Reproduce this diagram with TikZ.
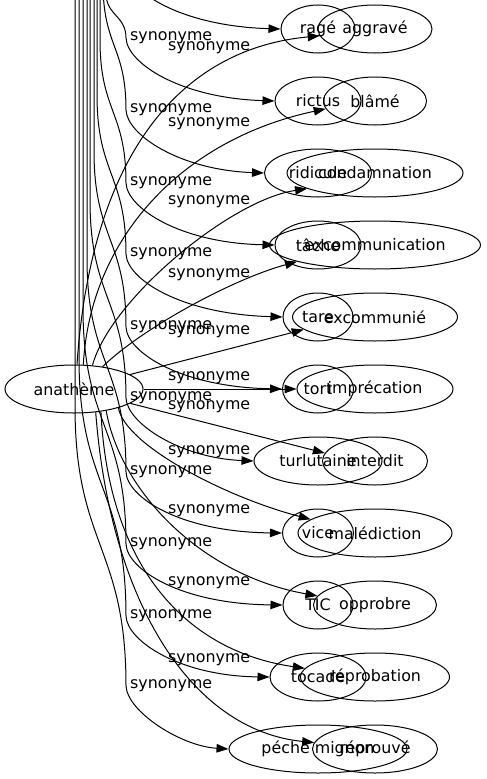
\documentclass[tikz,border=0pt]{standalone}
\usepackage{fontspec}
\setmainfont{DejaVu Sans}
\usetikzlibrary{arrows.meta,shapes.geometric}

\begin{document}
\begin{tikzpicture}[x=1pt,y=-1pt,node distance=72pt,font=\fontsize{15.85pt}{19pt}\selectfont]
  \tikzstyle{word} = [ellipse, draw, line width=1pt, inner sep=0pt, minimum height=48pt]
  \tikzstyle{rel} = [anchor=west, inner sep=0pt]
  \tikzstyle{arrow} = [line width=1pt, -{Triangle[length=12pt,width=8.5pt]}]

  \useasboundingbox (0,0) rectangle (487,779);
  \clip (0,0) rectangle (487,779);

  \node (anatheme) [word, minimum width=138pt] at (74,389) {anathème};

  % first column
  \node (rage) [word, minimum width=74pt] at (318,29) {ragé};
  \node (rictus) [word, minimum width=86pt, below of=rage] {rictus};
  \node (ridicule) [word, minimum width=107pt, below of=rictus] {ridicule};
  \node (tache) [word, minimum width=86pt, below of=ridicule] {tâche};
  \node (tare) [word, minimum width=70pt, below of=tache] {tare};
  \node (tort) [word, minimum width=71pt, below of=tare] {tort};
  \node (turlutaine) [word, minimum width=128pt, below of=tort] {turlutaine};
  \node (vice) [word, minimum width=71pt, below of=turlutaine] {vice};
  \node (tic) [word, minimum width=70pt, below of=vice] {TIC};
  \node (tocade) [word, minimum width=96pt, below of=tic] {tocade};
  \node (peche) [word, minimum width=178pt, below of=tocade] {péché mignon};

  % second column
  \node (aggrave) [word, minimum width=114pt] at (375,29) {aggravé};
  \node (blame) [word, minimum width=103pt, below of=aggrave] {blâmé};
  \node (condamnation) [word, minimum width=176pt, below of=blame] {condamnation};
  \node (excommunication) [word, minimum width=211pt, below of=condamnation] {excommunication};
  \node (excommunie) [word, minimum width=165pt, below of=excommunication] {excommunié};
  \node (imprecation) [word, minimum width=156pt, below of=excommunie] {imprécation};
  \node (interdit) [word, minimum width=105pt, below of=imprecation] {interdit};
  \node (malediction) [word, minimum width=154pt, below of=interdit] {malédiction};
  \node (opprobre) [word, minimum width=123pt, below of=malediction] {opprobre};
  \node (reprobation) [word, minimum width=149pt, below of=opprobre] {réprobation};
  \node (reprouve) [word, minimum width=125pt, below of=reprobation] {réprouvé};

  % first column edges, coming down from above
  \foreach \n/\yl/\xs/\ys in {rage/-34/110/-94, rictus/38/106/-7, ridicule/110/103/-17,
      tache/183/100/40, tare/254/97/95, tort/327/94/151, turlutaine/398/90/200,
      vice/472/87/258, tic/544/83/308, tocade/616/79/358, peche/686/75/406} {
    \coordinate (top\n) at (\xs,-120);
    \draw [arrow] (top\n) -- (\xs,\ys) .. controls (\xs,{(\ys+\yl)/2}) and (126,{(\ys+\yl)/2}) .. (126,\yl)
      .. controls (127,\yl+25) and (180,\yl+60) .. (\n.west);
  }
  \foreach \yl in {38,110,183,254,327,398,472,544,616,686}
    \node [rel] at (130,\yl) {synonyme};

  % second column edges
  \draw [arrow] (anatheme.83) .. controls (90,170) and (170,50) .. (aggrave.187);
  \draw [arrow] (anatheme.69) .. controls (90,240) and (180,140) .. (blame.189);
  \draw [arrow] (anatheme.52) .. controls (110,300) and (230,200) .. (condamnation.193);
  \draw [arrow] (anatheme.38) .. controls (140,330) and (230,280) .. (excommunication.192);
  \draw [arrow] (anatheme) -- (excommunie.190);
  \draw [arrow] (anatheme) -- (imprecation);
  \draw [arrow] (anatheme) -- (interdit.171);
  \draw [arrow] (anatheme.-23) .. controls (125,445) and (225,497) .. (malediction.168);
  \draw [arrow] (anatheme.-34) .. controls (120,490) and (200,575) .. (opprobre.171);
  \draw [arrow] (anatheme.-40) .. controls (108,560) and (180,650) .. (reprobation.173);
  \draw [arrow] (anatheme.-47) .. controls (110,600) and (190,730) .. (reprouve.174);
  \foreach \yl in {48,124,202,275,332,378,407,452,511,583,660}
    \node [rel] at (168,\yl) {synonyme};
\end{tikzpicture}
\end{document}
